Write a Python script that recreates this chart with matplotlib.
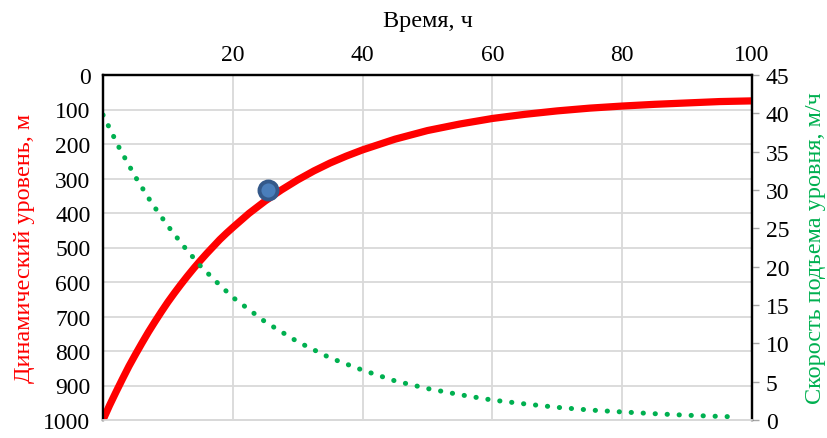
import numpy as np
import matplotlib
matplotlib.use("Agg")
import matplotlib.pyplot as plt

plt.rcParams['font.family'] = ['Liberation Serif', 'DejaVu Serif']

# время, ч
t_level = [0, 1, 2, 3, 4, 5, 6, 7, 8, 9, 10, 11, 12, 13, 14, 15, 16, 17, 18, 19, 20,
           22.5, 25, 27.5, 30, 32.5, 35, 37.5, 40, 45, 50, 55, 60, 65, 70, 75, 80,
           85, 90, 95, 100]
# динамический уровень, м
level = [1000, 958, 919, 881, 844, 810, 777, 745, 715, 686, 658, 632, 607, 583, 560,
         538, 517, 497, 477, 459, 442, 401, 365, 333, 304, 278, 255, 235, 217, 186,
         161, 142, 126, 114, 104, 96, 90, 85, 81, 77, 75]

t_speed = [0, 2.5, 5, 7.5, 10, 12.5, 15, 17.5, 20, 25, 30, 35, 40, 45, 50, 55, 60,
           65, 70, 75, 80, 85, 90, 95, 98]
# скорость подъема уровня, м/ч
speed = [39.8, 35.5, 31.7, 28.3, 25.3, 22.6, 20.1, 18.0, 16.0, 12.8, 10.2, 8.1, 6.5,
         5.1, 4.1, 3.3, 2.6, 2.1, 1.65, 1.3, 1.05, 0.82, 0.62, 0.47, 0.4]

pt_t = [25.5]
pt_level = [333]

grid_c = '#d9d9d9'
red = '#ff0000'
green = '#00b050'

fig = plt.figure(figsize=(8.28, 4.39), dpi=100)
ax = fig.add_axes([103/828, 1-421/439, (752-103)/828, (421-76)/439])
ax2 = ax.twinx()

ax.plot(t_level, level, color=red, lw=5.2, solid_capstyle='butt',
        solid_joinstyle='round', zorder=3)
ax.plot(pt_t, pt_level, 'o', ms=13, mfc='#4a7ebb', mec='#34598a', mew=2.8, zorder=4)

ax2.plot(t_speed, speed, color=green, lw=3.6, linestyle=(0, (0.05, 2.35)),
         dash_capstyle='round')

ax.set_xlim(0, 100)
ax.set_ylim(1000, 0)
ax2.set_ylim(0, 45)

ax.xaxis.tick_top()
ax.xaxis.set_label_position('top')
ax.set_xticks([20, 40, 60, 80, 100])
ax.set_yticks(np.arange(0, 1001, 100))
ax2.set_yticks(np.arange(0, 46, 5))

ax.grid(True, color=grid_c, lw=1.3)
ax.set_axisbelow(True)

ax.tick_params(axis='x', length=0, pad=7, labelsize=17)
ax.tick_params(axis='y', length=0, pad=9, labelsize=17)
ax2.tick_params(axis='y', length=5, width=1, color='#a6a6a6', pad=5, labelsize=17)

for a in (ax, ax2):
    a.spines['bottom'].set_color(grid_c)
    a.spines['bottom'].set_linewidth(1.3)
    for s in ('left', 'top', 'right'):
        a.spines[s].set_linewidth(1.6)
        a.spines[s].set_color('black')

ax.set_xlabel('Время, ч', fontsize=17.5, labelpad=13)
ax.set_ylabel('Динамический уровень, м', fontsize=17.5, color=red, labelpad=6)
ax2.set_ylabel('Скорость подъема уровня, м/ч', fontsize=17.5, color=green, labelpad=11)

fig.savefig('out.png', dpi=100)
